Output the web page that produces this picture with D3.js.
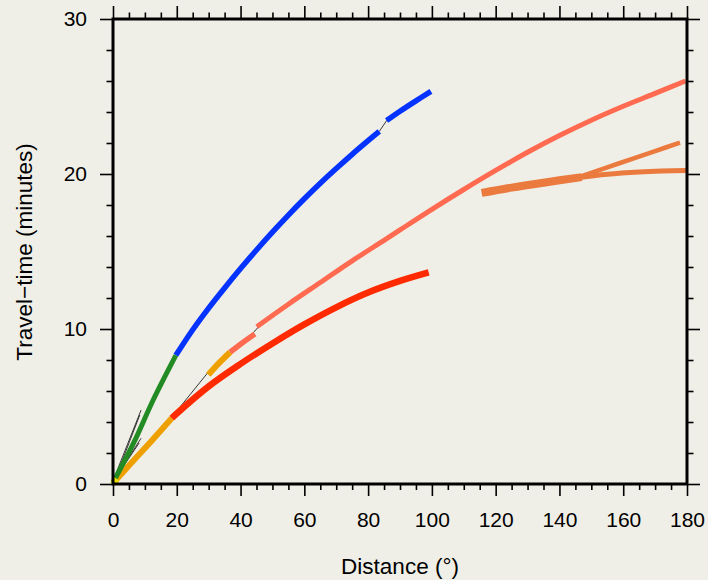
<!DOCTYPE html>
<html>
<head>
<meta charset="utf-8">
<script src="https://cdn.jsdelivr.net/npm/d3@7"></script>
<style>
    html, body { margin: 0; padding: 0; background: #f0efe7; }
    svg { display: block; font-family: "Liberation Sans", Arial, Helvetica, sans-serif; }
</style>
</head>
<body>
<div id="chart"></div>
<script>
// travel-time branches: [distance (deg), time (minutes)]
const sNear = [[0, 0.1], [6.4, 2.62], [12.6, 5.42], [19.7, 8.3]];
const sFar = [[19.7, 8.3], [25, 9.95], [30, 11.35], [35, 12.65], [40, 13.9], [45, 15.1], [50, 16.25], [55, 17.35], [60, 18.4], [65, 19.4], [70, 20.35], [75, 21.27], [80, 22.15], [83.5, 22.75]];
const sDiff = [[85.8, 23.45], [90, 24.05], [95, 24.72], [99.7, 25.33]];
const pNear = [[0, 0.05], [6, 1.42], [12, 2.76], [18.4, 4.24]];
const pFar = [[18.4, 4.24], [20, 4.55], [30, 6.3], [40, 7.75], [50, 9.07], [60, 10.3], [70, 11.4], [80, 12.35], [90, 13.1], [99, 13.65]];
const pTrip = [[29.9, 7.05], [33, 7.75], [36.7, 8.5]];
const ppNear = [[36.7, 8.5], [40.5, 9.1], [44.5, 9.68]];
const ppFar = [[45.1, 10.15], [55, 11.6], [65, 13.0], [75, 14.4], [85, 15.72], [90, 16.39], [100, 17.72], [110, 19.0], [120, 20.23], [130, 21.4], [140, 22.48], [150, 23.47], [160, 24.37], [170, 25.2], [179.5, 26.0]];
const pkpStart = [[115.6, 18.78], [125, 19.12], [135, 19.44], [147, 19.8]];
const pkpDF = [[145, 19.74], [155, 19.98], [165, 20.13], [172, 20.19], [180, 20.22]];
const pkpAB = [[146, 19.8], [155, 20.43], [164, 21.06], [170, 21.48], [177.8, 22.02]];
const yellowStart = [[0, 0], [1.1, 0.35]];

// thin connecting / crustal phases
const thinLines = [
    [[0, 0.2], [8.8, 4.77]],
    [[1, 0.5], [8.4, 4.45]],
    [[0.5, 0.3], [8.8, 2.95]],
    [[2, 0.75], [8.2, 2.65]],
    [[18.4, 4.3], [29.8, 7.2]],
    [[43.3, 9.6], [45.9, 10.2]],
    [[83.5, 22.75], [86, 23.5]]
];

const xTicks = [0, 20, 40, 60, 80, 100, 120, 140, 160, 180];
const xMinorTicks = [5, 10, 15, 25, 30, 35, 45, 50, 55, 65, 70, 75, 85, 90, 95, 105, 110, 115, 125, 130, 135, 145, 150, 155, 165, 170, 175];
const yTicks = [0, 10, 20, 30];
const yMinorTicks = [2, 4, 6, 8, 12, 14, 16, 18, 22, 24, 26, 28];

const width = 708,
    height = 580;

const x = d3.scaleLinear().domain([0, 180]).range([113, 687]);
const y = d3.scaleLinear().domain([0, 30]).range([484, 19]);

const svg = d3.select("#chart").append("svg")
    .attr("width", width)
    .attr("height", height);

svg.append("rect")
    .attr("width", width)
    .attr("height", height)
    .attr("fill", "#f0efe7");

const line = d3.line()
    .x(d => x(d[0]))
    .y(d => y(d[1]))
    .curve(d3.curveCatmullRom.alpha(0.5));

// thin black lines go under the coloured branches
svg.append("g").selectAll("path")
    .data(thinLines)
    .enter().append("path")
    .attr("d", line)
    .attr("fill", "none")
    .attr("stroke", "#222")
    .attr("stroke-width", 0.9);

const branches = [
    {data: ppFar, color: "#ff6a50", w: 5},
    {data: ppNear, color: "#ff6a50", w: 5.5},
    {data: pkpDF, color: "#ea7a3e", w: 5},
    {data: pkpAB, color: "#ea7a3e", w: 4.5},
    {data: pkpStart, color: "#ea7a3e", w: 8},
    {data: pFar, color: "#ff2a00", w: 6.5},
    {data: pTrip, color: "#eea000", w: 6},
    {data: pNear, color: "#eea000", w: 6},
    {data: sFar, color: "#0433ff", w: 5.5},
    {data: sDiff, color: "#0433ff", w: 5.5},
    {data: sNear, color: "#238b23", w: 5},
    {data: yellowStart, color: "#e8e000", w: 6}
];

svg.append("g").selectAll("path")
    .data(branches)
    .enter().append("path")
    .attr("d", d => line(d.data))
    .attr("fill", "none")
    .attr("stroke", d => d.color)
    .attr("stroke-width", d => d.w)
    .attr("stroke-linecap", "butt");

// axes on all four sides, ticks pointing out
function styleAxis(g) {
    g.select(".domain").remove();
    g.selectAll(".tick line").attr("stroke", "#000").attr("stroke-width", 1.6);
    g.selectAll(".tick text").attr("fill", "#000").attr("font-size", 21);
}

svg.append("g")
    .attr("transform", "translate(0,484)")
    .call(d3.axisBottom(x).tickValues(xTicks).tickSize(12).tickPadding(16).tickFormat(d => d))
    .call(styleAxis);
svg.append("g")
    .attr("transform", "translate(0,484)")
    .call(d3.axisBottom(x).tickValues(xMinorTicks).tickSize(6).tickFormat(""))
    .call(styleAxis);
svg.append("g")
    .attr("transform", "translate(0,19)")
    .call(d3.axisTop(x).tickValues(xTicks).tickSize(13).tickFormat(""))
    .call(styleAxis);
svg.append("g")
    .attr("transform", "translate(0,19)")
    .call(d3.axisTop(x).tickValues(xMinorTicks).tickSize(6.5).tickFormat(""))
    .call(styleAxis);

svg.append("g")
    .attr("transform", "translate(113,0)")
    .call(d3.axisLeft(y).tickValues(yTicks).tickSize(13).tickPadding(13).tickFormat(d => d))
    .call(styleAxis);
svg.append("g")
    .attr("transform", "translate(113,0)")
    .call(d3.axisLeft(y).tickValues(yMinorTicks).tickSize(6.5).tickFormat(""))
    .call(styleAxis);
svg.append("g")
    .attr("transform", "translate(687,0)")
    .call(d3.axisRight(y).tickValues(yTicks).tickSize(13).tickFormat(""))
    .call(styleAxis);
svg.append("g")
    .attr("transform", "translate(687,0)")
    .call(d3.axisRight(y).tickValues(yMinorTicks).tickSize(6.5).tickFormat(""))
    .call(styleAxis);

// frame
svg.append("rect")
    .attr("x", 113)
    .attr("y", 19)
    .attr("width", 574)
    .attr("height", 465)
    .attr("fill", "none")
    .attr("stroke", "#000")
    .attr("stroke-width", 3);

// axis titles
svg.append("text")
    .attr("x", 400)
    .attr("y", 574)
    .attr("text-anchor", "middle")
    .attr("font-size", 22.5)
    .text("Distance (°)");

svg.append("text")
    .attr("transform", "translate(32,252) rotate(-90)")
    .attr("text-anchor", "middle")
    .attr("font-size", 22.5)
    .text("Travel−time (minutes)");
</script>
</body>
</html>
